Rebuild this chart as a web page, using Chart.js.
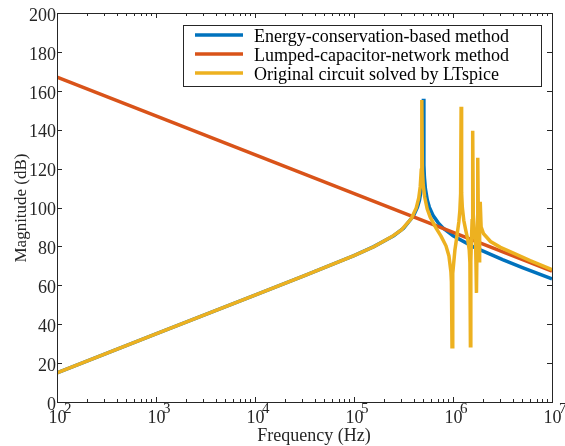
<!DOCTYPE html>
<html>
<head>
<meta charset="utf-8">
<script src="https://cdn.jsdelivr.net/npm/chart.js@4"></script>
<style>
  html, body { margin: 0; padding: 0; background: #ffffff; }
  #c { display: block; }
</style>
</head>
<body>
<canvas id="c" width="565" height="446"></canvas>
<script>
// ---------------- data ----------------
const seriesLabels = [
  'Energy-conservation-based method',
  'Lumped-capacitor-network method',
  'Original circuit solved by LTspice'
];

// Energy-conservation-based method (blue)
const freqBlue = [100, 1000, 10000, 31623, 100000, 158489, 251768, 316957, 399025, 437522,
  458142, 479733, 490908, 496592, 502343, 508159, 514044, 526017, 550808, 576766,
  632412, 709578, 796159, 1002305, 1588547, 3169567, 5023425, 10000000];
const magBlue = [15, 35, 55, 65, 75.3, 79.9, 85.5, 89.4, 95.7, 100.2,
  103.7, 109.7, 115.7, 121.7, 155.9, 121.8, 115.7, 109.7, 103.7, 100.2,
  95.7, 92.1, 89.4, 85.5, 79.9, 73.2, 69.1, 63.3];

// Lumped-capacitor-network method (red)
const freqRed = [100, 10000000];
const magRed = [167, 67.3];

// Original circuit solved by LTspice (yellow)
const freqYellow = [100, 1000, 10000, 31623, 100000, 158489, 239330, 301300, 379310, 425600,
  450820, 466660, 477530, 484170, 490910, 500030, 517610, 548280, 587490, 674530,
  756830, 849180, 909910, 952800, 963830, 977240, 990830, 997700, 1044700, 1094000,
  1145500, 1172200, 1194000, 1207800, 1221800, 1241700, 1285300, 1345900, 1409300, 1458800,
  1482500, 1499700, 1513600, 1527600, 1559600, 1581200, 1603200, 1655800, 1694300, 1725800,
  1753900, 1778300, 1807200, 1840800, 1857800, 1883600, 1923100, 2037000, 2393300, 3013000,
  4130500, 6011700, 10000000];
const magYellow = [15, 35, 55, 65, 75.3, 79.8, 84.9, 88.5, 94.3, 99.8,
  104.9, 110.7, 119.2, 155.3, 119.1, 111.7, 105.4, 99.3, 95.1, 89.4,
  85.3, 80.3, 75.1, 66.9, 61.9, 28.4, 62.4, 66.2, 78.0, 85.1,
  92.6, 98.3, 107.1, 151.8, 107.5, 100.1, 93.3, 88.2, 83.6, 78.1,
  71.7, 28.9, 72.2, 79.9, 93.2, 139.4, 96.4, 86.5, 80.3, 56.1,
  86.7, 125.6, 89.7, 72.6, 87.8, 102.9, 90.0, 86.5, 82.5, 79.5,
  76.4, 72.7, 68.0];

// axes
const xTickExponents = [2, 3, 4, 5, 6, 7];
const yTickValues = [0, 20, 40, 60, 80, 100, 120, 140, 160, 180, 200];
const xTitle = 'Frequency (Hz)';
const yTitle = 'Magnitude (dB)';

// ---------------- styling ----------------
const colors = ['#0072BD', '#D95319', '#EDB120'];
const axisColor = '#262626';
const serif = '"Liberation Serif", "Times New Roman", serif';

function pts(f, m) { return f.map((v, i) => ({ x: v, y: m[i] })); }

const decorations = {
  id: 'decorations',
  afterDraw(chart) {
    const ctx = chart.ctx;
    const xs = chart.scales.x, ys = chart.scales.y;
    const { left, right, top, bottom } = chart.chartArea;
    ctx.save();
    ctx.strokeStyle = axisColor;
    ctx.lineWidth = 1;
    // x ticks (major + minor, inward, bottom & top)
    ctx.beginPath();
    for (let e = xTickExponents[0]; e <= xTickExponents[xTickExponents.length - 1]; e++) {
      for (let m = 1; m <= 9; m++) {
        const f = m * Math.pow(10, e);
        if (f > xs.max * 1.0001) break;
        const x = Math.round(xs.getPixelForValue(f)) + 0.5;
        const len = m === 1 ? 5 : 3;
        ctx.moveTo(x, bottom); ctx.lineTo(x, bottom - len);
        ctx.moveTo(x, top); ctx.lineTo(x, top + len);
      }
    }
    // y ticks (inward, left & right)
    yTickValues.forEach(v => {
      const y = Math.round(ys.getPixelForValue(v)) + 0.5;
      ctx.moveTo(left, y); ctx.lineTo(left + 5, y);
      ctx.moveTo(right, y); ctx.lineTo(right - 5, y);
    });
    ctx.stroke();
    // frame
    ctx.strokeRect(Math.round(left) + 0.5, Math.round(top) + 0.5,
                   Math.round(right - left), Math.round(bottom - top));

    // x tick labels 10^n
    ctx.fillStyle = axisColor;
    xTickExponents.forEach(e => {
      const x = xs.getPixelForValue(Math.pow(10, e));
      ctx.font = '18px ' + serif;
      ctx.textAlign = 'center';
      ctx.textBaseline = 'alphabetic';
      ctx.fillText('10', x + 0.5, 423);
      ctx.font = '15px ' + serif;
      ctx.textAlign = 'left';
      ctx.fillText(String(e), x + 7, 413);
    });

    // axis titles
    ctx.font = '18px ' + serif;
    ctx.textAlign = 'center';
    ctx.fillText(xTitle, 314, 441);
    ctx.save();
    ctx.translate(26, 208);
    ctx.rotate(-Math.PI / 2);
    ctx.font = '17px ' + serif;
    ctx.fillText(yTitle, 0, 0);
    ctx.restore();

    // legend
    const lx = 183, ly = 25, lw = 358, lh = 61;
    ctx.fillStyle = '#ffffff';
    ctx.fillRect(lx, ly, lw, lh);
    ctx.strokeStyle = axisColor;
    ctx.lineWidth = 1;
    ctx.strokeRect(lx + 0.5, ly + 0.5, lw, lh);
    seriesLabels.forEach((lab, i) => {
      const y = 35 + i * 19;
      ctx.strokeStyle = colors[i];
      ctx.lineWidth = 3.5;
      ctx.beginPath();
      ctx.moveTo(195, y); ctx.lineTo(243, y);
      ctx.stroke();
      ctx.fillStyle = '#000000';
      ctx.font = '18px ' + serif;
      ctx.textAlign = 'left';
      ctx.textBaseline = 'alphabetic';
      ctx.fillText(lab, 254, y + 6.5);
    });
    ctx.restore();
  }
};

new Chart(document.getElementById('c'), {
  type: 'line',
  data: {
    datasets: [
      { label: seriesLabels[0], data: pts(freqBlue, magBlue), borderColor: colors[0],
        borderWidth: 3.5, pointRadius: 0, tension: 0, fill: false, order: 2 },
      { label: seriesLabels[1], data: pts(freqRed, magRed), borderColor: colors[1],
        borderWidth: 3.5, pointRadius: 0, tension: 0, fill: false, order: 1 },
      { label: seriesLabels[2], data: pts(freqYellow, magYellow), borderColor: colors[2],
        borderWidth: 3.5, pointRadius: 0, tension: 0, fill: false, order: 0 }
    ]
  },
  options: {
    responsive: false,
    animation: false,
    devicePixelRatio: 1,
    layout: { padding: { top: 13, right: 13, left: 0, bottom: 0 } },
    plugins: { legend: { display: false }, tooltip: { enabled: false }, title: { display: false } },
    scales: {
      x: {
        type: 'logarithmic', min: 100, max: 10000000,
        grid: { display: false }, border: { display: false },
        ticks: { display: false },
        afterFit(s) { s.height = 44; }
      },
      y: {
        type: 'linear', min: 0, max: 200,
        grid: { display: false, drawTicks: false }, border: { display: false },
        ticks: { stepSize: 20, color: axisColor, padding: 1, labelOffset: 3,
                 font: { family: serif, size: 18 } },
        afterFit(s) { s.width = 57; }
      }
    }
  },
  plugins: [decorations]
});
</script>
</body>
</html>
